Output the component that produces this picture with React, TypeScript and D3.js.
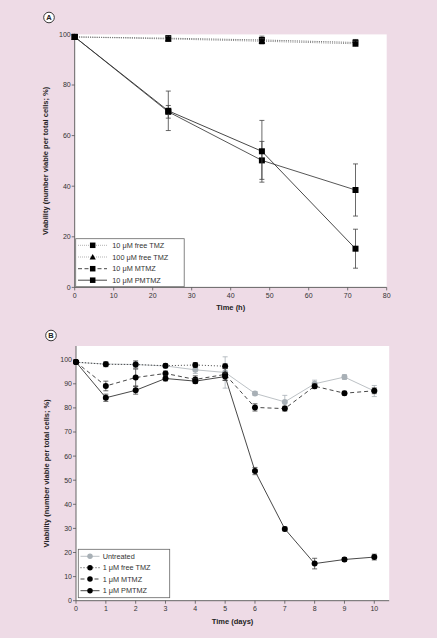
import React from "react";
import * as d3 from "d3";

// ---------- Panel A data ----------
const timeA = [0, 24, 48, 72];
const freeTMZ10 = [99, 98.5, 97.8, 96.8];
const freeTMZ10Err = [0.5, 1, 1.5, 1.2];
const freeTMZ100 = [99, 98.2, 97.3, 96.3];
const freeTMZ100Err = [0.5, 1, 1, 1];
const mtmz10 = [99, 69.4, 50.2, 38.5];
const mtmz10Err = [0.5, 2.5, 7.5, 10.3];
const pmtmz10 = [99, 69.8, 53.8, 15.3];
const pmtmz10Err = [0.5, 7.8, 12.2, 7.7];
const xTicksA = [0, 10, 20, 30, 40, 50, 60, 70, 80];
const yTicksA = [0, 20, 40, 60, 80, 100];

// ---------- Panel B data ----------
const daysB = [0, 1, 2, 3, 4, 5, 6, 7, 8, 9, 10];
const untreated = [98.9, 98.2, 98, 97.4, 95.8, 94.7, 86, 82.5, 90, 92.8, 87];
const untreatedErr = [0.5, 0.8, 1, 0.8, 1.5, 6.5, 0.8, 2.7, 1.5, 1, 2.3];
const daysFree = [0, 1, 2, 3, 4, 5];
const freeTMZ1 = [99, 98.1, 98, 97.5, 97.8, 97.3];
const freeTMZ1Err = [0.5, 1, 1.5, 0.8, 1, 1];
const mtmz1 = [99, 89.1, 92.6, 94.3, 91.8, 93.9, 80.2, 79.7, 89, 86.1, 87.1];
const mtmz1Err = [0.5, 2, 3.5, 1, 1.5, 2.5, 1.5, 1, 1, 0.8, 1.2];
const pmtmz1 = [99, 84.2, 87.3, 92.2, 91.1, 93, 53.8, 29.8, 15.4, 17.1, 18.1];
const pmtmz1Err = [0.5, 1.5, 1.6, 1, 1, 1.5, 1.5, 0.8, 2.2, 0.8, 1.2];
const xTicksB = [0, 1, 2, 3, 4, 5, 6, 7, 8, 9, 10];
const yTicksB = [0, 10, 20, 30, 40, 50, 60, 70, 80, 90, 100];

const FONT = "'Liberation Sans', Arial, sans-serif";
const BG = "#eedbe6";
const AXIS = "#555";
const TXT = "#333";

type Series = {
  name: string;
  xs: number[];
  ys: number[];
  err: number[];
  marker: "square" | "triangle" | "circle";
  color: string;
  lineColor: string;
  dash: string;
  legendDash: string;
  legendLineColor: string;
};

function Marker({ type, x, y, color, size }: { type: string; x: number; y: number; color: string; size: number }) {
  if (type === "square")
    return <rect x={x - size / 2} y={y - size / 2} width={size} height={size} fill={color} />;
  if (type === "triangle") {
    const h = size * 0.95;
    const path = `M${x},${y - h / 2 - 0.5} L${x + size / 2 + 0.3},${y + h / 2} L${x - size / 2 - 0.3},${y + h / 2} Z`;
    return <path d={path} fill={color} />;
  }
  return <circle cx={x} cy={y} r={size / 2} fill={color} />;
}

function Panel({
  letter, letterX, letterY,
  x0, x1, xDomain, y0, y1, yDomain, plotTop,
  xTicks, yTicks, xTitle, series, markerSize,
  legend,
}: {
  letter: string; letterX: number; letterY: number;
  x0: number; x1: number; xDomain: [number, number];
  y0: number; y1: number; yDomain: [number, number]; plotTop: number;
  xTicks: number[]; yTicks: number[]; xTitle: string;
  series: Series[]; markerSize: number;
  legend: { x: number; y: number; w: number; h: number; rows: number[]; lineX0: number; lineX1: number; markX: number; textX: number };
}) {
  const xs = d3.scaleLinear().domain(xDomain).range([x0, x1]);
  const ys = d3.scaleLinear().domain(yDomain).range([y0, y1]);
  const right = x1;
  const line = d3.line<[number, number]>().x((d) => xs(d[0])).y((d) => ys(d[1]));
  const midY = (plotTop + y0) / 2;
  return (
    <g>
      <circle cx={letterX} cy={letterY} r={5.3} fill="#fff" stroke="#222" strokeWidth={0.9} />
      <text x={letterX} y={letterY + 2.6} textAnchor="middle" fontSize={7.5} fontWeight="bold" fontFamily={FONT} fill="#222">{letter}</text>
      <rect x={x0} y={plotTop} width={right - x0} height={y0 - plotTop} fill="#fff" />
      {/* axes */}
      <line x1={x0} x2={x0} y1={plotTop} y2={y0} stroke={AXIS} strokeWidth={0.9} />
      <line x1={x0} x2={right} y1={y0} y2={y0} stroke={AXIS} strokeWidth={0.9} />
      {yTicks.map((t) => (
        <g key={"y" + t}>
          <line x1={x0 - 3} x2={x0} y1={ys(t)} y2={ys(t)} stroke={AXIS} strokeWidth={0.8} />
          <text x={x0 - 4} y={ys(t) + 2.4} textAnchor="end" fontSize={7} fontFamily={FONT} fill={TXT}>{t}</text>
        </g>
      ))}
      {xTicks.map((t) => (
        <g key={"x" + t}>
          <line x1={xs(t)} x2={xs(t)} y1={y0} y2={y0 + 3} stroke={AXIS} strokeWidth={0.8} />
          <text x={xs(t)} y={y0 + 10.5} textAnchor="middle" fontSize={7} fontFamily={FONT} fill={TXT}>{t}</text>
        </g>
      ))}
      <text x={(x0 + right) / 2} y={y0 + 23} textAnchor="middle" fontSize={7.5} fontWeight="bold" fontFamily={FONT} fill="#222">{xTitle}</text>
      <text transform={`translate(${x0 - 27},${midY}) rotate(-90)`} textAnchor="middle" fontSize={7.5} fontWeight="bold" fontFamily={FONT} fill="#222">
        Viability (number viable per total cells; %)
      </text>
      {/* series */}
      {series.map((s, i) => {
        const pts = s.xs.map((x, j) => [x, s.ys[j]] as [number, number]);
        return (
          <g key={"s" + i}>
            <path d={line(pts) || ""} fill="none" stroke={s.lineColor} strokeWidth={0.9} strokeDasharray={s.dash} />
            {pts.map((p, j) => {
              const e = s.err[j];
              const cx = xs(p[0]);
              return (
                <g key={j} stroke={s.color === "#000" ? "#444" : s.color} strokeWidth={0.8}>
                  <line x1={cx} x2={cx} y1={ys(p[1] - e)} y2={ys(p[1] + e)} />
                  <line x1={cx - 2.5} x2={cx + 2.5} y1={ys(p[1] - e)} y2={ys(p[1] - e)} />
                  <line x1={cx - 2.5} x2={cx + 2.5} y1={ys(p[1] + e)} y2={ys(p[1] + e)} />
                </g>
              );
            })}
            {pts.map((p, j) => (
              <Marker key={"m" + j} type={s.marker} x={xs(p[0])} y={ys(p[1])} color={s.color} size={markerSize} />
            ))}
          </g>
        );
      })}
      {/* legend */}
      <rect x={legend.x} y={legend.y} width={legend.w} height={legend.h} fill="#fff" stroke="#666" strokeWidth={0.8} />
      {series.map((s, i) => (
        <g key={"l" + i}>
          <line x1={legend.lineX0} x2={legend.lineX1} y1={legend.rows[i]} y2={legend.rows[i]} stroke={s.legendLineColor} strokeWidth={0.9} strokeDasharray={s.legendDash} />
          <Marker type={s.marker} x={legend.markX} y={legend.rows[i]} color={s.color} size={markerSize - 0.5} />
          <text x={legend.textX} y={legend.rows[i] + 2.5} fontSize={7.3} fontFamily={FONT} fill={TXT}>{s.name}</text>
        </g>
      ))}
    </g>
  );
}

export default function App() {
  const seriesA: Series[] = [
    { name: "10 \u03bcM free TMZ", xs: timeA, ys: freeTMZ10, err: freeTMZ10Err, marker: "square", color: "#000", lineColor: "#555", dash: "1,1.2", legendDash: "1,1", legendLineColor: "#aaa" },
    { name: "100 \u03bcM free TMZ", xs: timeA, ys: freeTMZ100, err: freeTMZ100Err, marker: "triangle", color: "#000", lineColor: "#777", dash: "1,1.2", legendDash: "1,1", legendLineColor: "#aaa" },
    { name: "10 \u03bcM MTMZ", xs: timeA, ys: mtmz10, err: mtmz10Err, marker: "square", color: "#000", lineColor: "#444", dash: "none", legendDash: "4,2.5", legendLineColor: "#333" },
    { name: "10 \u03bcM PMTMZ", xs: timeA, ys: pmtmz10, err: pmtmz10Err, marker: "square", color: "#000", lineColor: "#333", dash: "none", legendDash: "none", legendLineColor: "#333" },
  ];
  const seriesB: Series[] = [
    { name: "Untreated", xs: daysB, ys: untreated, err: untreatedErr, marker: "circle", color: "#a8b0b6", lineColor: "#b4babe", dash: "none", legendDash: "none", legendLineColor: "#b4babe" },
    { name: "1 \u03bcM free TMZ", xs: daysFree, ys: freeTMZ1, err: freeTMZ1Err, marker: "circle", color: "#000", lineColor: "#333", dash: "1,2", legendDash: "1,2", legendLineColor: "#333" },
    { name: "1 \u03bcM MTMZ", xs: daysB, ys: mtmz1, err: mtmz1Err, marker: "circle", color: "#000", lineColor: "#333", dash: "4,3", legendDash: "4,3", legendLineColor: "#333" },
    { name: "1 \u03bcM PMTMZ", xs: daysB, ys: pmtmz1, err: pmtmz1Err, marker: "circle", color: "#000", lineColor: "#333", dash: "none", legendDash: "none", legendLineColor: "#333" },
  ];
  return (
    <svg width={437} height={638} style={{ position: "absolute", left: 0, top: 0, display: "block" }}>
      <rect x={0} y={0} width={437} height={638} fill={BG} />
      <Panel
        letter="A" letterX={49} letterY={17.5}
        x0={74.7} x1={386.7} xDomain={[0, 80]}
        y0={287.4} y1={34.4} yDomain={[0, 100]} plotTop={34.4}
        xTicks={xTicksA} yTicks={yTicksA} xTitle="Time (h)"
        series={seriesA} markerSize={6}
        legend={{ x: 75.7, y: 238.7, w: 108.5, h: 48, rows: [245.3, 257, 268.7, 280.2], lineX0: 78, lineX1: 107, markX: 92.7, textX: 112.3 }}
      />
      <Panel
        letter="B" letterX={51} letterY={335.5}
        x0={76} x1={389.2} xDomain={[0, 10.5]}
        y0={600.7} y1={359.7} yDomain={[0, 100]} plotTop={346}
        xTicks={xTicksB} yTicks={yTicksB} xTitle="Time (days)"
        series={seriesB} markerSize={6}
        legend={{ x: 78.3, y: 549.3, w: 91.4, h: 48.4, rows: [556.3, 567.7, 579, 590.7], lineX0: 80.5, lineX1: 99.5, markX: 90, textX: 102.7 }}
      />
    </svg>
  );
}
